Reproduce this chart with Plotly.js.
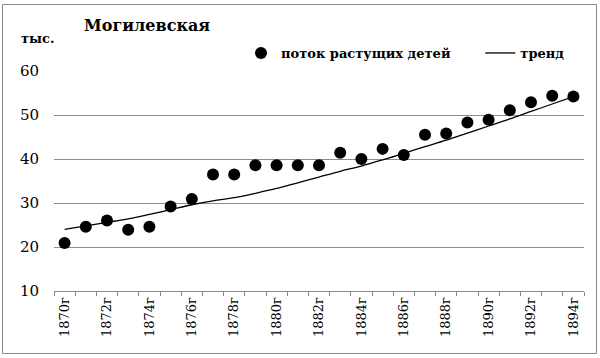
<!DOCTYPE html>
<html>
<head>
<meta charset="utf-8">
<script src="https://cdn.plot.ly/plotly-3.0.1.min.js"></script>
<style>
  html, body { margin: 0; padding: 0; background: #fff; }
  #chart { width: 600px; height: 358px; }
</style>
</head>
<body>
<div id="chart"></div>
<script>
const years = ["1870г","1871г","1872г","1873г","1874г","1875г","1876г","1877г","1878г","1879г",
               "1880г","1881г","1882г","1883г","1884г","1885г","1886г","1887г","1888г","1889г",
               "1890г","1891г","1892г","1893г","1894г"];
const flow = [20.9, 24.6, 26.0, 23.9, 24.6, 29.2, 30.9, 36.5, 36.5, 38.6,
              38.6, 38.6, 38.6, 41.4, 40.0, 42.3, 40.9, 45.5, 45.8, 48.3,
              48.9, 51.1, 52.9, 54.4, 54.2];
const trend = [24.0, 24.8, 25.6, 26.4, 27.4, 28.5, 29.6, 30.5, 31.2, 32.2,
               33.3, 34.6, 35.9, 37.2, 38.4, 39.8, 41.3, 42.8, 44.3, 45.9,
               47.5, 49.1, 50.8, 52.5, 54.2];
const tickLabels = years.map((y, i) => (i % 2 === 0 ? y : ""));
const yTicks = [10, 20, 30, 40, 50, 60];

const serif = "DejaVu Serif";

const data = [
  {
    x: years, y: flow, type: "scatter", mode: "markers",
    name: "<b>поток растущих детей</b>\u00a0\u00a0\u00a0\u00a0\u00a0\u00a0",
    marker: { color: "#000", size: 12 }
  },
  {
    x: years, y: trend, type: "scatter", mode: "lines",
    name: "<b>тренд</b>",
    line: { color: "#000", width: 1.3, shape: "spline" }
  }
];

const layout = {
  width: 600, height: 358,
  margin: { l: 54, r: 16, t: 71, b: 67 },
  paper_bgcolor: "#fff", plot_bgcolor: "#fff",
  font: { family: serif, size: 15, color: "#000" },
  showlegend: true,
  legend: {
    orientation: "h", x: (241 - 54) / 530, xanchor: "left", y: 1 + (71 - 38) / 220, yanchor: "top",
    font: { family: serif, size: 13, color: "#000" },
    bgcolor: "rgba(0,0,0,0)"
  },
  xaxis: {
    type: "category",
    tickmode: "array", tickvals: years, ticktext: tickLabels,
    tickangle: -90, tickson: "boundaries",
    ticks: "outside", ticklen: 4, tickcolor: "#888",
    showline: true, linecolor: "#888", linewidth: 1,
    showgrid: false, zeroline: false,
    tickfont: { family: serif, size: 13, color: "#000" },
    range: [-0.5, 24.5]
  },
  yaxis: {
    range: [10, 60], tickmode: "array", tickvals: yTicks,
    showgrid: true, gridcolor: "#8c8c8c", gridwidth: 1,
    zeroline: false, showline: false, ticks: "",
    ticklabelstandoff: 14,
    tickfont: { family: serif, size: 15, color: "#000" }
  },
  annotations: [
    {
      text: "<b>Могилевская</b>", xref: "paper", yref: "paper",
      x: (82 - 54) / 530, y: 1 + (71 - 25) / 220, xanchor: "left", yanchor: "middle",
      showarrow: false, font: { family: serif, size: 16, color: "#000" }
    },
    {
      text: "<b>тыс.</b>", xref: "paper", yref: "paper",
      x: (19 - 54) / 530, y: 1 + (71 - 39) / 220, xanchor: "left", yanchor: "middle",
      showarrow: false, font: { family: serif, size: 13, color: "#000" }
    }
  ],
  shapes: [
    {
      type: "rect", xref: "paper", yref: "paper",
      x0: (2.5 - 54) / 530, x1: (596.5 - 54) / 530,
      y0: -(353.5 - 291) / 220, y1: 1 + (71 - 4.5) / 220,
      line: { color: "#888", width: 1 }
    }
  ]
};

Plotly.newPlot("chart", data, layout, { displayModeBar: false, staticPlot: true });
</script>
</body>
</html>
